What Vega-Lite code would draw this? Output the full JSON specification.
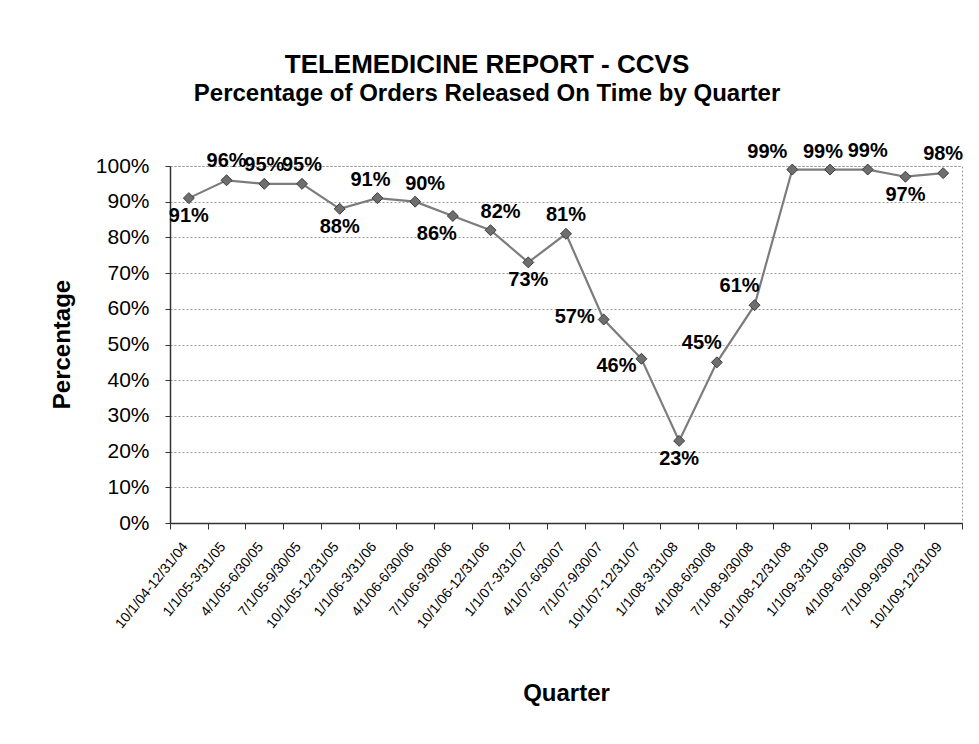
{
  "$schema": "https://vega.github.io/schema/vega-lite/v6.json",
  "autosize": "none",
  "width": 792,
  "height": 357,
  "padding": {"left": 170, "top": 166, "right": 17, "bottom": 221},
  "background": "white",
  "config": {
    "font": "Liberation Sans",
    "view": {"stroke": "#9a9a9a", "strokeDash": [2, 2], "strokeWidth": 1}
  },
  "title": {
    "text": "TELEMEDICINE REPORT - CCVS",
    "subtitle": "Percentage of Orders Released On Time by Quarter",
    "fontSize": 26,
    "fontWeight": "bold",
    "color": "#000000",
    "subtitleFontSize": 24,
    "subtitleFontWeight": "bold",
    "subtitleColor": "#000000",
    "subtitleFont": "Liberation Sans",
    "subtitlePadding": 4,
    "anchor": "middle",
    "frame": "group",
    "dx": -79,
    "offset": 35
  },
  "data": {
    "values": [
      {"q": "10/1/04-12/31/04", "v": 0.91},
      {"q": "1/1/05-3/31/05", "v": 0.96},
      {"q": "4/1/05-6/30/05", "v": 0.95},
      {"q": "7/1/05-9/30/05", "v": 0.95},
      {"q": "10/1/05-12/31/05", "v": 0.88},
      {"q": "1/1/06-3/31/06", "v": 0.91},
      {"q": "4/1/06-6/30/06", "v": 0.90},
      {"q": "7/1/06-9/30/06", "v": 0.86},
      {"q": "10/1/06-12/31/06", "v": 0.82},
      {"q": "1/1/07-3/31/07", "v": 0.73},
      {"q": "4/1/07-6/30/07", "v": 0.81},
      {"q": "7/1/07-9/30/07", "v": 0.57},
      {"q": "10/1/07-12/31/07", "v": 0.46},
      {"q": "1/1/08-3/31/08", "v": 0.23},
      {"q": "4/1/08-6/30/08", "v": 0.45},
      {"q": "7/1/08-9/30/08", "v": 0.61},
      {"q": "10/1/08-12/31/08", "v": 0.99},
      {"q": "1/1/09-3/31/09", "v": 0.99},
      {"q": "4/1/09-6/30/09", "v": 0.99},
      {"q": "7/1/09-9/30/09", "v": 0.97},
      {"q": "10/1/09-12/31/09", "v": 0.98}
    ]
  },
  "encoding": {
    "x": {
      "field": "q",
      "type": "nominal",
      "sort": null,
      "scale": {"paddingInner": 0, "paddingOuter": 0},
      "axis": {
        "title": "Quarter",
        "titleFontSize": 24,
        "titleFontWeight": "bold",
        "titleColor": "#000000",
        "titleY": 170,
        "titleBaseline": "middle",
        "labelAngle": -51,
        "labelFontSize": 14,
        "labelColor": "#000000",
        "labelPadding": 15,
        "labelOffset": -4,
        "labelOverlap": false,
        "labelBound": false,
        "tickBand": "extent",
        "tickSize": 6,
        "tickColor": "#333333",
        "domainColor": "#333333",
        "domainWidth": 1.5,
        "grid": false
      }
    },
    "y": {
      "field": "v",
      "type": "quantitative",
      "scale": {"domain": [0, 1], "nice": false},
      "axis": {
        "title": "Percentage",
        "titleFontSize": 24,
        "titleFontWeight": "bold",
        "titleColor": "#000000",
        "titleX": -108,
        "titleY": 178,
        "titleBaseline": "middle",
        "titleAngle": -90,
        "format": ".0%",
        "values": [0, 0.1, 0.2, 0.3, 0.4, 0.5, 0.6, 0.7, 0.8, 0.9, 1],
        "labelFontSize": 21,
        "labelColor": "#000000",
        "labelPadding": 16,
        "tickSize": 5,
        "tickColor": "#333333",
        "domainColor": "#333333",
        "domainWidth": 1.5,
        "gridColor": "#9a9a9a",
        "gridDash": [2, 2],
        "gridWidth": 1
      }
    }
  },
  "layer": [
    {"mark": {"type": "line", "color": "#7c7c7c", "strokeWidth": 2.2}},
    {"mark": {"type": "point", "shape": "diamond", "filled": true, "size": 120, "color": "#6e6e6e", "stroke": "#3c3c3c", "strokeWidth": 1, "opacity": 1}},
    {
      "transform": [{"filter": {"field": "q", "oneOf": ["1/1/05-3/31/05", "4/1/05-6/30/05", "7/1/05-9/30/05", "4/1/07-6/30/07", "4/1/09-6/30/09", "10/1/09-12/31/09"]}}],
      "mark": {"type": "text", "fontSize": 20, "fontWeight": "bold", "color": "#000000", "baseline": "middle", "dy": -19},
      "encoding": {"text": {"field": "v", "type": "quantitative", "format": ".0%"}}
    },
    {
      "transform": [{"filter": {"field": "q", "oneOf": ["1/1/06-3/31/06", "1/1/09-3/31/09"]}}],
      "mark": {"type": "text", "fontSize": 20, "fontWeight": "bold", "color": "#000000", "baseline": "middle", "dx": -7, "dy": -18},
      "encoding": {"text": {"field": "v", "type": "quantitative", "format": ".0%"}}
    },
    {
      "transform": [{"filter": {"field": "q", "oneOf": ["4/1/06-6/30/06", "10/1/06-12/31/06"]}}],
      "mark": {"type": "text", "fontSize": 20, "fontWeight": "bold", "color": "#000000", "baseline": "middle", "dx": 10, "dy": -18},
      "encoding": {"text": {"field": "v", "type": "quantitative", "format": ".0%"}}
    },
    {
      "transform": [{"filter": {"field": "q", "oneOf": ["10/1/08-12/31/08"]}}],
      "mark": {"type": "text", "fontSize": 20, "fontWeight": "bold", "color": "#000000", "baseline": "middle", "dx": -25, "dy": -18},
      "encoding": {"text": {"field": "v", "type": "quantitative", "format": ".0%"}}
    },
    {
      "transform": [{"filter": {"field": "q", "oneOf": ["10/1/04-12/31/04", "10/1/05-12/31/05", "1/1/07-3/31/07", "1/1/08-3/31/08", "7/1/09-9/30/09"]}}],
      "mark": {"type": "text", "fontSize": 20, "fontWeight": "bold", "color": "#000000", "baseline": "middle", "dy": 18},
      "encoding": {"text": {"field": "v", "type": "quantitative", "format": ".0%"}}
    },
    {
      "transform": [{"filter": {"field": "q", "oneOf": ["7/1/06-9/30/06"]}}],
      "mark": {"type": "text", "fontSize": 20, "fontWeight": "bold", "color": "#000000", "baseline": "middle", "dx": -16, "dy": 18},
      "encoding": {"text": {"field": "v", "type": "quantitative", "format": ".0%"}}
    },
    {
      "transform": [{"filter": {"field": "q", "oneOf": ["7/1/07-9/30/07"]}}],
      "mark": {"type": "text", "fontSize": 20, "fontWeight": "bold", "color": "#000000", "baseline": "middle", "dx": -29, "dy": -3},
      "encoding": {"text": {"field": "v", "type": "quantitative", "format": ".0%"}}
    },
    {
      "transform": [{"filter": {"field": "q", "oneOf": ["10/1/07-12/31/07"]}}],
      "mark": {"type": "text", "fontSize": 20, "fontWeight": "bold", "color": "#000000", "baseline": "middle", "dx": -25, "dy": 7},
      "encoding": {"text": {"field": "v", "type": "quantitative", "format": ".0%"}}
    },
    {
      "transform": [{"filter": {"field": "q", "oneOf": ["4/1/08-6/30/08", "7/1/08-9/30/08"]}}],
      "mark": {"type": "text", "fontSize": 20, "fontWeight": "bold", "color": "#000000", "baseline": "middle", "dx": -15, "dy": -19},
      "encoding": {"text": {"field": "v", "type": "quantitative", "format": ".0%"}}
    }
  ]
}
